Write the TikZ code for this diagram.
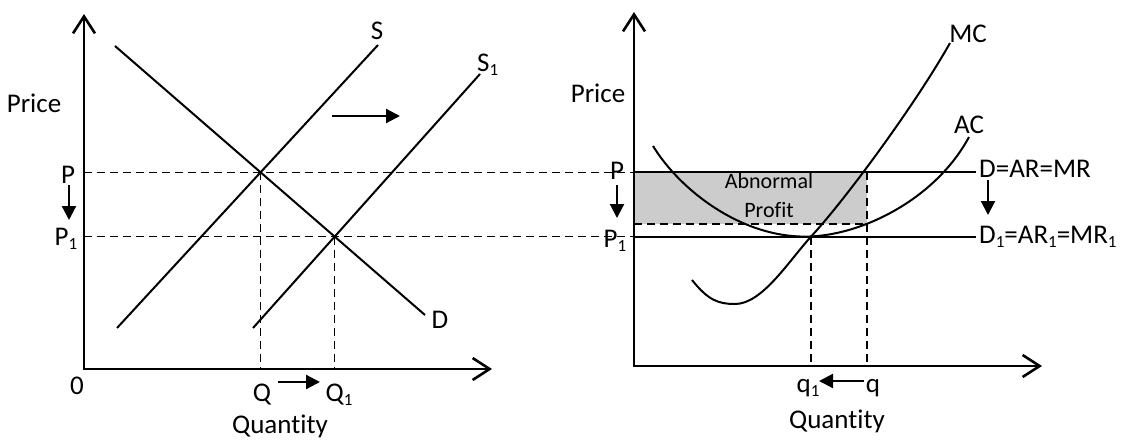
\documentclass[tikz,border=0pt]{standalone}
\usepackage{fontspec}
\setmainfont[Ligatures=NoCommon]{Carlito}
\usetikzlibrary{arrows.meta}
\newcommand{\lsub}[1]{\raisebox{-0.16em}{\fontsize{17}{17}\selectfont #1}}
\begin{document}
\begin{tikzpicture}[x=1pt,y=-1pt,
  axisline/.style={line width=2.6pt, {Straight Barb[length=17pt,width=22pt]}-{Straight Barb[length=17pt,width=22pt]}},
  econcurve/.style={line width=2pt},
  guideline/.style={line width=1.5pt, dash pattern=on 8pt off 5pt},
  moveArrow/.style={line width=2.2pt, -{Triangle[length=14pt,width=14pt]}},
  lbl/.style={font=\fontsize{27}{30}\selectfont, inner sep=0pt},
  smalllbl/.style={font=\fontsize{22}{24}\selectfont, inner sep=0pt},
]
\useasboundingbox (0,0) rectangle (1126,442);

% ---------- left panel ----------
\coordinate (O1) at (84,369);
\coordinate (Y1) at (84,14);
\coordinate (X1) at (492,369);
\coordinate (Dtop) at (115,46);
\coordinate (Dbot) at (425,315);
\coordinate (Sbot) at (117,328);
\coordinate (Stop) at (378,45);
\coordinate (S1bot) at (253,328);
\coordinate (S1top) at (480,74);
\coordinate (E0) at (intersection of Dtop--Dbot and Sbot--Stop);
\coordinate (E1) at (intersection of Dtop--Dbot and S1bot--S1top);

% ---------- right panel ----------
\coordinate (O2) at (634,366);
\coordinate (Y2) at (634,12);
\coordinate (X2) at (1042,366);
\coordinate (ACq) at (867,224);
\coordinate (F1) at (811,236.6);

% shaded abnormal profit
\fill[gray!40] (O2 |- E0) rectangle (ACq);

% dashed guides
\draw[guideline] (O1 |- E0) -- (O2 |- E0);
\draw[guideline] (O1 |- E1) -- (O2 |- E1);
\draw[guideline] (E0) -- (E0 |- O1);
\draw[guideline] (E1) -- (E1 |- O1);
\draw[guideline] (O2 |- ACq) -- (ACq);
\draw[guideline] (ACq |- E0) -- (ACq |- O2);
\draw[guideline] (F1) -- (F1 |- O2);

% axes
\draw[axisline] (Y1) -- (O1) -- (X1);
\draw[axisline] (Y2) -- (O2) -- (X2);

% left curves
\draw[econcurve] (Dtop) -- (Dbot);
\draw[econcurve] (Sbot) -- (Stop);
\draw[econcurve] (S1bot) -- (S1top);

% right labels for revenue lines
\node[lbl, anchor=base west] (DAR) at (979,177) {D=AR=MR};
\node[lbl, anchor=base west] (DAR1) at (979,243) {D\lsub{1}=AR\lsub{1}=MR\lsub{1}};
\draw[econcurve] (O2 |- E0) -- ([xshift=-3pt]DAR.west |- E0);
\draw[econcurve] (O2 |- E1) -- ([xshift=-3pt]DAR1.west |- E1);

% AC and MC
\draw[econcurve] (653,146) .. controls (680,190) and (740,236.6) .. (805,236.6)
  .. controls (860,236.6) and (935,200) .. (969,137);
\draw[econcurve] (692,280) .. controls (708,300) and (718,304) .. (735,304)
  .. controls (762,304) and (788,262) .. (F1)
  .. controls (845,200) and (915,105) .. (950,43);

% left labels
\node[lbl, anchor=base] (price1) at (34,112) {Price};
\node[lbl, anchor=base] (qty1) at (280,433) {Quantity};
\node[lbl, anchor=base] (Plbl) at (68,183) {P};
\node[lbl, anchor=base] (P1lbl) at (66,245) {P\lsub{1}};
\node[lbl, anchor=base] (zero) at (77,394) {0};
\node[lbl, anchor=base] (Qlbl) at (262,401) {Q};
\node[lbl, anchor=base] (Q1lbl) at (339,401) {Q\lsub{1}};
\node[lbl, anchor=base] (Slbl) at (377,39) {S};
\node[lbl, anchor=base west] (S1lbl) at (477,71) {S\lsub{1}};
\node[lbl, anchor=base] (Dlbl) at (440,328) {D};

% right labels
\node[lbl, anchor=base] (price2) at (598,102) {Price};
\node[lbl, anchor=base] (qty2) at (837,428) {Quantity};
\node[lbl, anchor=base] (Prlbl) at (617,179) {P};
\node[lbl, anchor=base] (P1rlbl) at (615,247) {P\lsub{1}};
\node[lbl, anchor=base] (q1lbl) at (808,392) {q\lsub{1}};
\node[lbl, anchor=base] (qlbl) at (873,392) {q};
\node[lbl, anchor=base] (MClbl) at (968,42) {MC};
\node[lbl, anchor=base] (AClbl) at (969,133) {AC};
\node[smalllbl, anchor=base] (abn) at (769,188) {Abnormal};
\node[smalllbl, anchor=base] (prof) at (769,217) {Profit};

% shift arrows
\coordinate (sa1) at (332,116); \coordinate (sa2) at (400,116);
\draw[moveArrow] (sa1) -- (sa2);
\coordinate (qa1) at (278,382); \coordinate (qa2) at (320,382);
\draw[moveArrow] (qa1) -- (qa2);
\coordinate (pa1) at (69,185); \coordinate (pa2) at (69,220);
\draw[moveArrow] (pa1) -- (pa2);
\coordinate (pr1) at (617,185); \coordinate (pr2) at (617,218);
\draw[moveArrow] (pr1) -- (pr2);
\coordinate (da1) at (988,180); \coordinate (da2) at (988,215);
\draw[moveArrow] (da1) -- (da2);
\coordinate (ka1) at (864,381); \coordinate (ka2) at (819,381);
\draw[moveArrow] (ka1) -- (ka2);
\end{tikzpicture}
\end{document}
